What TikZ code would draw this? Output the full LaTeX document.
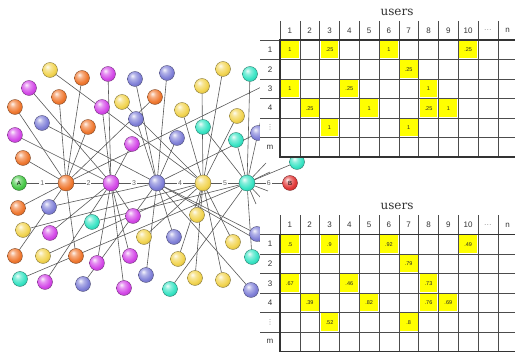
\documentclass[tikz,border=0pt]{standalone}
\usepackage{fontspec}
\newfontfamily\tabfont{Liberation Sans}
\newfontfamily\titlefont{DejaVu Serif}
\newfontfamily\symfont{DejaVu Sans}

\pgfdeclarelayer{bg}
\pgfsetlayers{bg,main}

\definecolor{orgc}{HTML}{F07830}
\definecolor{purc}{HTML}{D448E8}
\definecolor{bluc}{HTML}{8080D8}
\definecolor{yelc}{HTML}{F2D450}
\definecolor{tealc}{HTML}{38E4C4}
\definecolor{grnc}{HTML}{48C848}
\definecolor{redc}{HTML}{E23838}
\definecolor{cellyel}{HTML}{FFFF00}
\colorlet{ballc}{orgc}

% lighter sphere than the built-in ball shading
\pgfdeclareradialshading[ballc]{sphere}{\pgfpoint{-9bp}{11bp}}{%
  color(0bp)=(ballc!8!white); color(10bp)=(ballc!60!white);
  color(24bp)=(ballc); color(38bp)=(ballc!80!black);
  color(48bp)=(ballc!50!black); color(70bp)=(black)}

\tikzset{
  ball/.style={circle, inner sep=0pt, minimum size=15pt,
    /utils/exec={\colorlet{ballc}{#1}}, shading=sphere,
    draw=ballc!45!black, line width=0.3pt,
    font=\tabfont\fontsize{6}{6}\selectfont},
  hub/.style={ball=#1, minimum size=16pt},
  edge/.style={draw=black!65, line width=0.6pt},
  steplbl/.style={fill=white, inner sep=1pt, text=black!60,
    font=\tabfont\fontsize{7}{7}\selectfont},
  gridline/.style={draw=black!70, line width=0.6pt},
  border/.style={draw=black!80, line width=1.2pt},
  headtxt/.style={text=black!80, inner sep=1pt, font=\tabfont\fontsize{8}{8}\selectfont},
  valtxt/.style={text=black!85, font=\tabfont\fontsize{5.5}{5.5}\selectfont},
}

% one users table: name prefix, vertical shift, yellow cells
\newcommand{\usertable}[3]{%
  \begin{scope}[yshift=#2]
    \fill[white] (260,1.5) rectangle (520,158);
    \node[text=black!80, font=\titlefont\fontsize{12}{12}\selectfont] (#1title) at (397,12) {users};
    % yellow cells
    \foreach \c/\r/\v in {#3}{
      \fill[cellyel] ({280+(\c-1)*19.8+1},{40+(\r-1)*19.5+1}) rectangle ++(17.8,17.5);
      \node[valtxt] (#1v\c-\r) at ({280+(\c-0.5)*19.8},{40+(\r-0.5)*19.5}) {\v};
    }
    % grid
    \foreach \r in {0,...,5}
      \draw[gridline] (260,{40+\r*19.5}) -- (520,{40+\r*19.5});
    \foreach \c in {1,...,11}
      \draw[gridline] ({280+\c*19.8},21) -- ({280+\c*19.8},157);
    \draw[gridline] (280,21) -- (280,40);
    \draw[border] (520,40) -- (280,40) -- (280,157) -- (520,157);
    % headers
    \foreach \t [count=\c] in {1,2,3,4,5,6,7,8,9,10,\textcolor{black!45}{\dots},n}
      \node[headtxt] (#1h\c) at ({280+(\c-0.5)*19.8},30.5) {\t};
    \foreach \t [count=\r] in {1,2,3,4,\textcolor{black!50}{\symfont\fontsize{7}{7}\selectfont ⋮},m}
      \node[headtxt] (#1r\r) at (270,{40+(\r-0.5)*19.5}) {\t};
  \end{scope}
}

\begin{document}
\begin{tikzpicture}[x=1pt,y=-1pt]
  \useasboundingbox (0,0) rectangle (515,352);

  % chain A -- B
  \node[ball=grnc] (hA) at (19,183) {A};
  \node[hub=orgc] (hO) at (66,183) {};
  \node[hub=purc] (hP) at (111,183) {};
  \node[hub=bluc] (hL) at (157,183) {};
  \node[hub=yelc] (hY) at (203,183) {};
  \node[hub=tealc] (hT) at (247,183) {};
  \node[ball=redc] (hB) at (290,183) {B};

  % users around each hub, coloured as their hub
  \foreach \x/\y [count=\i] in {82/78,59/97,15/107,88/127,155/97,23/158,18/208,15/256,76/256}{
    \node[ball=orgc] (o\i) at (\x,\y) {};
    \begin{pgfonlayer}{bg}\draw[edge] (o\i) -- (hO);\end{pgfonlayer}
  }
  \foreach \x/\y [count=\i] in {29/88,108/74,102/107,15/135,132/144,133/216,50/233,97/263,130/256,45/282,124/288}{
    \node[ball=purc] (p\i) at (\x,\y) {};
    \begin{pgfonlayer}{bg}\draw[edge] (p\i) -- (hP);\end{pgfonlayer}
  }
  \foreach \x/\y [count=\i] in {135/79,167/73,42/123,136/119,177/138,49/207,174/237,83/284,146/275,258/133,257/234,251/290}{
    \node[ball=bluc] (l\i) at (\x,\y) {};
    \begin{pgfonlayer}{bg}\draw[edge] (l\i) -- (hL);\end{pgfonlayer}
  }
  \foreach \x/\y [count=\i] in {50/70,122/102,202/86,223/69,182/110,237/116,197/215,23/230,144/237,233/242,43/256,178/259,195/278,223/280}{
    \node[ball=yelc] (y\i) at (\x,\y) {};
    \begin{pgfonlayer}{bg}\draw[edge] (y\i) -- (hY);\end{pgfonlayer}
  }
  \foreach \x/\y [count=\i] in {250/74,203/127,236/140,92/222,20/279,170/289,252/257,297/162}{
    \node[ball=tealc] (t\i) at (\x,\y) {};
    \begin{pgfonlayer}{bg}\draw[edge] (t\i) -- (hT);\end{pgfonlayer}
  }

  % links running off under the tables
  \coordinate (off1) at (300,68);
  \coordinate (off2) at (275,250);
  \coordinate (off3) at (263,110);
  \foreach \x/\y [count=\i] in {266/163,270/172,268/191,262/199,256/204}
    \coordinate (sp\i) at (\x,\y);
  \begin{pgfonlayer}{bg}
    \draw[edge] (hO) -- (off1);
    \draw[edge] (hL) -- (off2);
    \draw[edge] (hT) -- (off3);
    \foreach \i in {1,...,5}
      \draw[edge] (hT) -- (sp\i);
    % the path itself
    \draw[edge] (hA) -- node[steplbl] (n1) {1} (hO);
    \draw[edge] (hO) -- node[steplbl] (n2) {2} (hP);
    \draw[edge] (hP) -- node[steplbl] (n3) {3} (hL);
    \draw[edge] (hL) -- node[steplbl] (n4) {4} (hY);
    \draw[edge] (hY) -- node[steplbl] (n5) {5} (hT);
    \draw[edge] (hT) -- node[steplbl] (n6) {6} (hB);
  \end{pgfonlayer}

  % tables
  \usertable{a}{0pt}{1/1/1,3/1/.25,6/1/1,10/1/.25,7/2/.25,1/3/1,4/3/.25,8/3/1,2/4/.25,5/4/1,8/4/.25,9/4/1,3/5/1,7/5/1}
  \usertable{b}{-194.5pt}{1/1/.5,3/1/.9,6/1/.92,10/1/.49,7/2/.79,1/3/.67,4/3/.46,8/3/.73,2/4/.39,5/4/.82,8/4/.76,9/4/.69,3/5/.52,7/5/.8}
\end{tikzpicture}
\end{document}
